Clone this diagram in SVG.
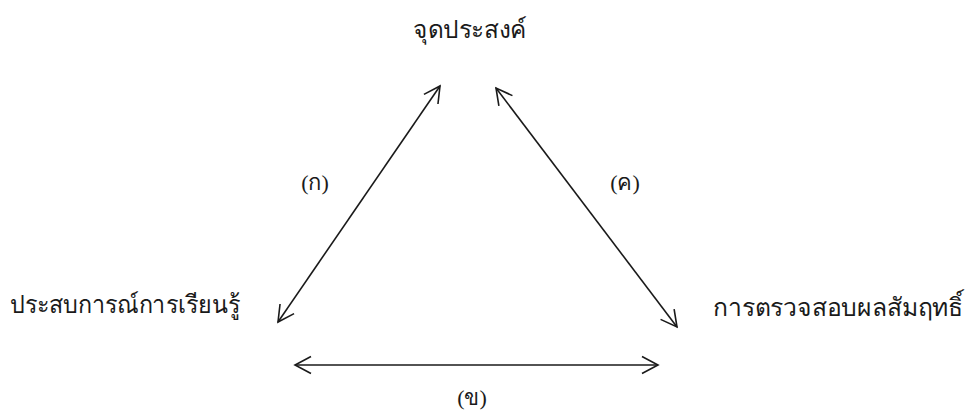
<svg xmlns="http://www.w3.org/2000/svg" width="972" height="413" viewBox="0 0 972 413">
<style>
.t{font-family:"Liberation Serif","DejaVu Serif",serif;fill:#1a1a1a;}
.lab{font-size:25px;}
.sm{font-size:22px;}
.c{stroke:#1a1a1a;stroke-width:1.6;fill:none;}
</style>
<defs>
<marker id="a" viewBox="0 0 20 20" refX="18" refY="10" markerWidth="20" markerHeight="20" markerUnits="userSpaceOnUse" orient="auto-start-reverse">
<path d="M2,1.5 L18,10 L2,18.5" fill="none" stroke="#1a1a1a" stroke-width="1.6"/>
</marker>
</defs>
<rect width="972" height="413" fill="#fff"/>
<g id="n-goal"><text class="t lab" x="413" y="38" textLength="114" lengthAdjust="spacingAndGlyphs">จุดประสงค์</text></g>
<g id="n-exp"><text class="t lab" x="10" y="313" textLength="230" lengthAdjust="spacingAndGlyphs">ประสบการณ์การเรียนรู้</text></g>
<g id="n-eval"><text class="t lab" x="713" y="316" textLength="250" lengthAdjust="spacingAndGlyphs">การตรวจสอบผลสัมฤทธิ์</text></g>
<g id="connectors">
<line class="c" x1="278" y1="322" x2="440" y2="86" marker-start="url(#a)" marker-end="url(#a)"/>
<line class="c" x1="496" y1="88" x2="677" y2="327" marker-start="url(#a)" marker-end="url(#a)"/>
<line class="c" x1="295" y1="365" x2="658" y2="365" marker-start="url(#a)" marker-end="url(#a)"/>
<text class="t sm" x="315" y="190" text-anchor="middle">(ก)</text>
<text class="t sm" x="625" y="190" text-anchor="middle">(ค)</text>
<text class="t sm" x="472" y="405" text-anchor="middle">(ข)</text>
</g>
</svg>
